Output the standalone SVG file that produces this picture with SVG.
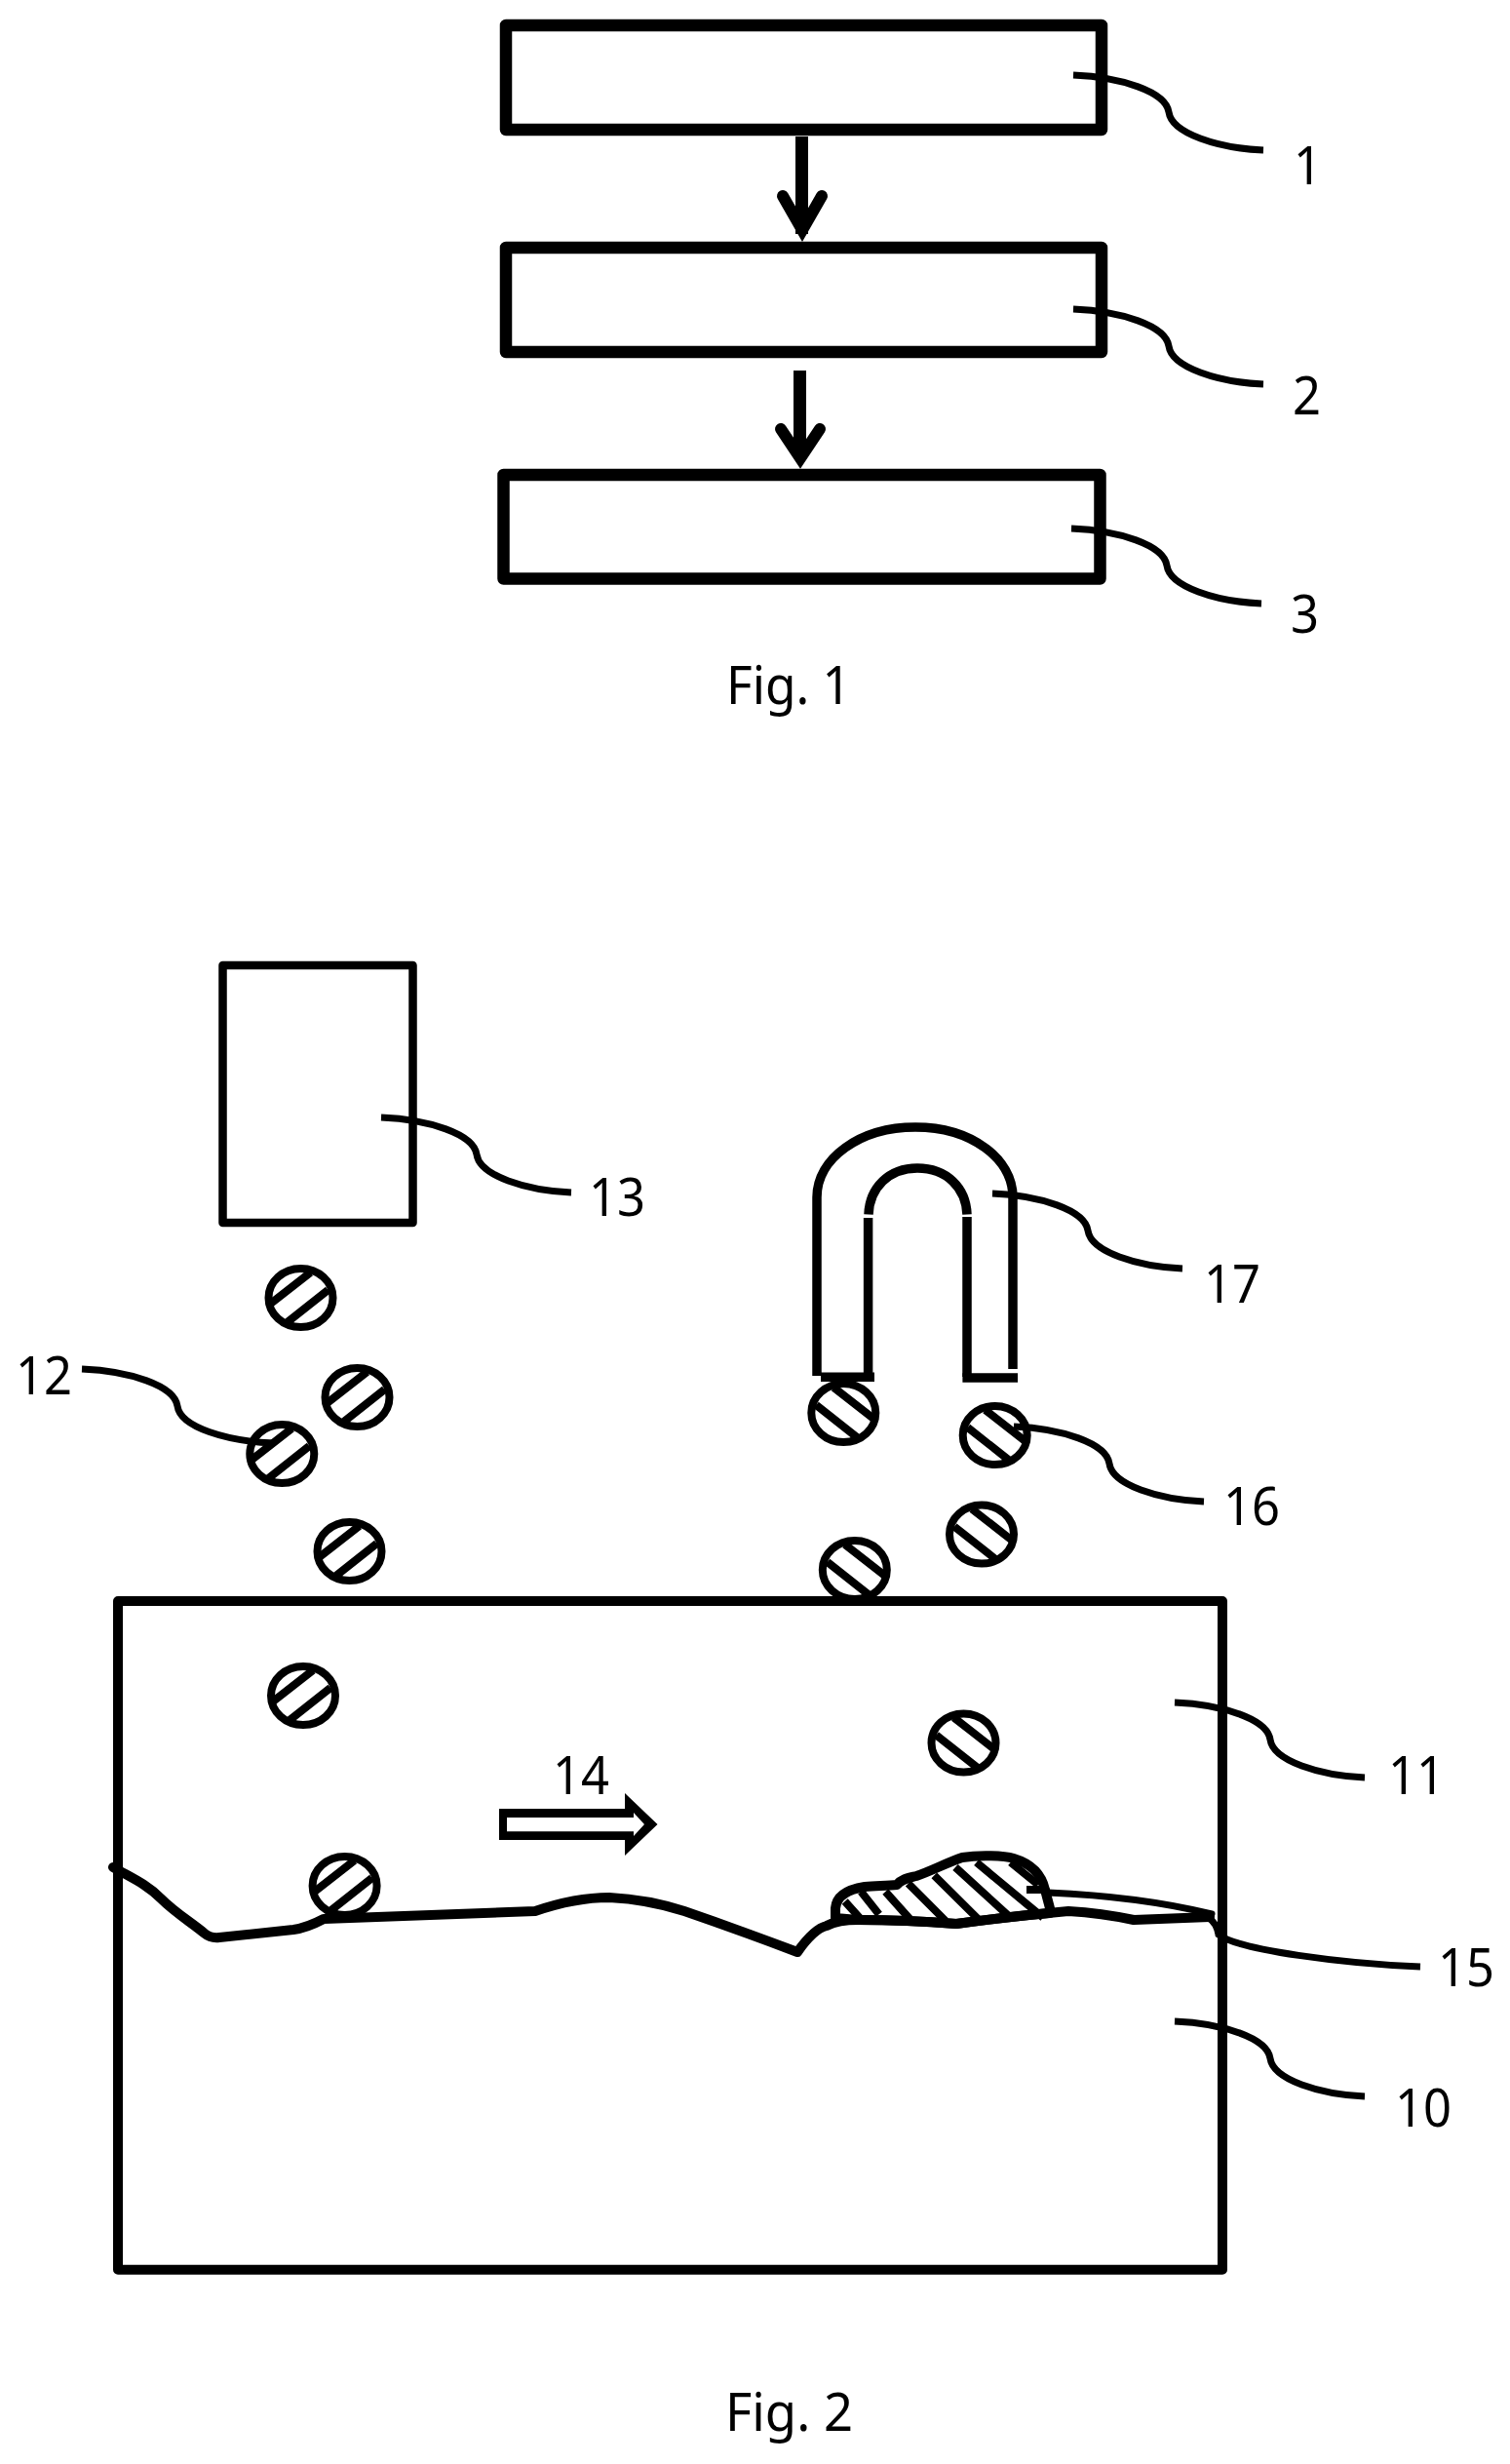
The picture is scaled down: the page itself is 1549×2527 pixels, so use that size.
<svg xmlns="http://www.w3.org/2000/svg" width="1549" height="2527" viewBox="0 0 1549 2527">
<style>
.bg{fill:#fff}
.box{fill:none;stroke:#000;stroke-linejoin:round}
.line{fill:none;stroke:#000;stroke-width:7}
.ink{fill:none;stroke:#000;stroke-width:10;stroke-linecap:round;stroke-linejoin:round}
.blob{fill:#fff;stroke:#000;stroke-width:10;stroke-linejoin:round}
.hatch{fill:none;stroke:#000;stroke-width:8}
.arr{fill:none;stroke:#000;stroke-width:13}
.head{fill:none;stroke:#000;stroke-width:12;stroke-linejoin:miter;stroke-miterlimit:10;stroke-linecap:round}
.mag{fill:none;stroke:#000;stroke-width:9.5}
text{font-family:"Noto Sans","Open Sans","Liberation Sans",sans-serif;font-size:55px;fill:#000}
</style>
<defs>
<path id="lead" d="M0 0C49 2 95 17 98 38C101 60 149 75 195 77"/>
<g id="pa">
<ellipse rx="33" ry="30" fill="#fff" stroke="none"/>
<path class="hatch" d="M-31 6L10 -26M-15 26L28 -8"/>
<ellipse rx="33" ry="30" class="hatch"/>
</g>
<g id="pb">
<ellipse rx="33" ry="30" fill="#fff" stroke="none"/>
<path class="hatch" d="M31 6L-10 -26M15 26L-28 -8"/>
<ellipse rx="33" ry="30" class="hatch"/>
</g>
</defs>
<rect class="bg" width="1549" height="2527"/>

<g id="box-1"><rect class="box" x="519" y="26" width="611" height="107" stroke-width="12.500"/><text x="1327" y="189" textLength="29" lengthAdjust="spacingAndGlyphs">1</text></g>
<g id="box-2"><rect class="box" x="519" y="254" width="611" height="107" stroke-width="12.500"/><text x="1326" y="425" textLength="29" lengthAdjust="spacingAndGlyphs">2</text></g>
<g id="box-3"><rect class="box" x="516.500" y="487" width="612" height="106.500" stroke-width="12.500"/><text x="1324" y="649" textLength="29" lengthAdjust="spacingAndGlyphs">3</text></g>
<text id="fig-1" x="745" y="722" textLength="128" lengthAdjust="spacingAndGlyphs">Fig. 1</text>

<g id="source-13"><rect class="box" x="228.500" y="990" width="195" height="264" stroke-width="8.500"/><text x="604" y="1247" textLength="58" lengthAdjust="spacingAndGlyphs">13</text></g>

<g id="particles-12">
<use href="#pa" x="308.500" y="1331"/>
<use href="#pa" x="366.500" y="1433"/>
<use href="#pa" x="289.300" y="1491"/>
<use href="#pa" x="358.500" y="1591"/>
<use href="#pa" x="311" y="1739"/>
<use href="#pa" x="353.600" y="1934"/>
<text x="16" y="1430" textLength="58" lengthAdjust="spacingAndGlyphs">12</text>
</g>

<g id="particles-16">
<use href="#pb" x="865.300" y="1449"/>
<use href="#pb" x="1020.700" y="1472"/>
<use href="#pb" x="1007" y="1573.600"/>
<use href="#pb" x="876.800" y="1610"/>
<use href="#pb" x="988.500" y="1787.500"/>
<text x="1255" y="1564" textLength="58" lengthAdjust="spacingAndGlyphs">16</text>
</g>

<g id="magnet-17">
<path class="mag" d="M838 1411V1228C838 1188 882 1156 939 1156C996 1156 1039 1188 1039 1228V1404"/>
<path class="mag" d="M891 1245.500C892 1218 912 1198 941 1198C971 1198 991 1218 992 1245.500"/>
<path class="mag" d="M890.600 1249V1412M992 1248V1412"/>
<path class="mag" d="M842 1412.300H897M987.400 1413H1044"/>
<text x="1235" y="1336" textLength="58" lengthAdjust="spacingAndGlyphs">17</text>
</g>

<g id="substrate-10">
<rect class="box" x="121" y="1642" width="1133" height="685.700" stroke-width="10"/>
<text x="1431" y="2181" textLength="58" lengthAdjust="spacingAndGlyphs">10</text>
</g>
<g id="plasma-11"><text x="1424" y="1840" textLength="58" lengthAdjust="spacingAndGlyphs">11</text></g>

<g id="flow-14">
<path fill="#000" fill-rule="evenodd" d="M512 1855H641V1839L674.500 1871L641 1903V1887H512ZM520 1864V1878.300H650V1883L661 1871L650 1859V1864Z"/>
<text x="567" y="1840" textLength="58" lengthAdjust="spacingAndGlyphs">14</text>
</g>

<g id="coating-15">
<path class="blob" d="M857 1967V1957C858 1945 868 1938 887 1935C900 1934 910 1934 920 1933C925 1927 932 1926 940 1924C955 1919 972 1910 987 1905C1005 1902 1030 1903 1040 1906C1060 1912 1069 1925 1072 1938L1077 1957V1962Q1040 1965 981 1973Q930 1969 880 1969Z"/>
<path class="hatch" d="M866.700 1950L881.700 1966.700M883.300 1940L901.700 1963.300M908.300 1940L933.300 1968M931.700 1931.700L970 1970M958.300 1923.300L1003.300 1968M980 1915L1036.700 1966.700M1001.700 1910L1070 1966.700M1036.700 1910L1065 1933M1053 1938H1075"/>
<path class="ink" style="stroke-width:7" d="M1075 1941Q1170 1945 1243 1963"/>
<path class="ink" d="M116 1915C135 1926 150 1932 165 1947C180 1962 197 1972 210 1983Q216 1988 225 1987L301 1979Q315 1977 332 1968L549 1960Q590 1946 625 1946Q665 1948 702 1960Q760 1980 818 2002Q835 1978 848 1975Q860 1969 880 1969Q930 1969 981 1973Q1040 1965 1096 1960Q1130 1962 1163 1969L1241 1966"/>
<text x="1475" y="2037" textLength="58" lengthAdjust="spacingAndGlyphs">15</text>
</g>

<g id="connectors">
<path class="arr" d="M822.500 140V240"/>
<path class="head" d="M803 201L823 236L843 201"/>
<path class="arr" d="M820.500 380V470"/>
<path class="head" d="M801 440L821 470L841 440"/>
<use href="#lead" x="1101" y="77" class="line"/>
<use href="#lead" x="1101" y="317" class="line"/>
<use href="#lead" x="1099" y="542" class="line"/>
<use href="#lead" x="391" y="1146" class="line"/>
<path class="line" d="M84 1404C133 1406 179 1421 182 1442C185 1464 233 1478 281 1480"/>
<use href="#lead" x="1018" y="1224" class="line"/>
<use href="#lead" x="1040" y="1463" class="line"/>
<use href="#lead" x="1205" y="1746" class="line"/>
<use href="#lead" x="1205" y="2073" class="line"/>
<path class="line" d="M1240 1967Q1248 1972 1250 1984C1270 2000 1380 2014 1457 2017"/>
</g>

<text id="fig-2" x="744" y="2493" textLength="131" lengthAdjust="spacingAndGlyphs">Fig. 2</text>
</svg>
